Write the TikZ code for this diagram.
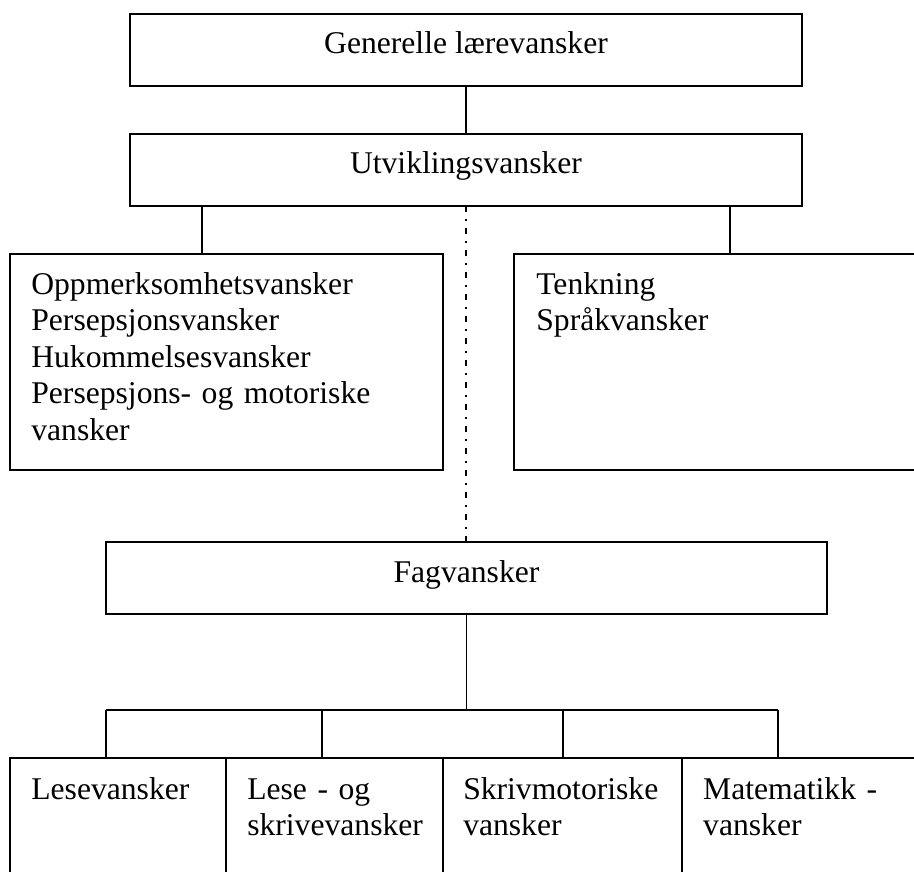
\documentclass[tikz,border=0pt]{standalone}
\usepackage{fontspec}
\setmainfont{Liberation Serif}
\usetikzlibrary{positioning}

\begin{document}
\begin{tikzpicture}[
    x=0.02cm, y=-0.02cm,
    every node/.style={font=\fontsize{18}{20.8}\selectfont},
    box/.style={rectangle, draw, line width=1.1pt, outer sep=0pt, inner sep=0pt},
    headbox/.style={box, minimum width=13.44cm, minimum height=1.44cm, text height=0.8cm, text depth=0.64cm},
    midbox/.style={box, anchor=north west, minimum height=4.32cm},
    cell/.style={box, minimum height=5cm},
    txt/.style={anchor=base west, inner sep=0pt, text width=8cm, align=left},
    link/.style={line width=0.7pt},
    dashdot/.style={line width=0.7pt, dash pattern=on 0.13cm off 0.14cm on 0.03cm off 0.14cm}
  ]

  \useasboundingbox (0,0) rectangle (914,872);
  \clip (0,0) rectangle (914,872);

  % Top boxes
  \node[headbox] (gen) at (466,50) {Generelle lærevansker};
  \node[headbox, below=0.96cm of gen] (utv) {Utviklingsvansker};

  % Middle boxes
  \node[midbox, minimum width=8.66cm] (persep) at (10,254) {};
  \node[midbox, minimum width=10cm] (tenk) at (514,254) {};
  \node[txt] (persepTxt) at ([shift={(21,40)}]persep.north west)
    {Oppmerksomhetsvansker\\Persepsjonsvansker\\Hukommelsesvansker\\Persepsjons- og motoriske\\vansker};
  \node[txt] (tenkTxt) at ([shift={(22,40)}]tenk.north west) {Tenkning\\Språkvansker};

  \node[headbox, minimum width=14.42cm] (fag) at (466.5,578) {Fagvansker};

  % Bottom boxes
  \node[cell, anchor=north west, minimum width=4.32cm] (les) at (10,758) {};
  \node[cell, right=0pt of les, minimum width=4.34cm] (lesskriv) {};
  \node[cell, right=0pt of lesskriv, minimum width=4.78cm] (skriv) {};
  \node[cell, right=0pt of skriv, minimum width=8cm] (mat) {};
  \node[txt] (lesTxt) at ([shift={(21,41)}]les.north west) {Lesevansker};
  \node[txt] (lesskrivTxt) at ([shift={(21,41)}]lesskriv.north west) {Lese - og\\skrivevansker};
  \node[txt] (skrivTxt) at ([shift={(20,41)}]skriv.north west) {Skrivmotoriske\\vansker};
  \node[txt] (matTxt) at ([shift={(21,41)}]mat.north west) {Matematikk -\\vansker};

  % Connectors
  \draw[link] (gen.south) -- (utv.north);
  \draw[link] (202,0 |- utv.south) -- (202,0 |- persep.north);
  \draw[link] (730,0 |- utv.south) -- (730,0 |- tenk.north);
  \draw[dashdot] (utv.south) -- (utv.south |- fag.north);

  \coordinate (bus) at (fag.south |- 0,710);
  \draw[link] (fag.south) -- (bus);
  \draw[link] (106,710) -- (778,710);
  \foreach \x/\b in {106/les, 322/lesskriv, 563/skriv, 778/mat}
    \draw[link] (\x,710) -- (\x,710 |- \b.north);

\end{tikzpicture}
\end{document}
